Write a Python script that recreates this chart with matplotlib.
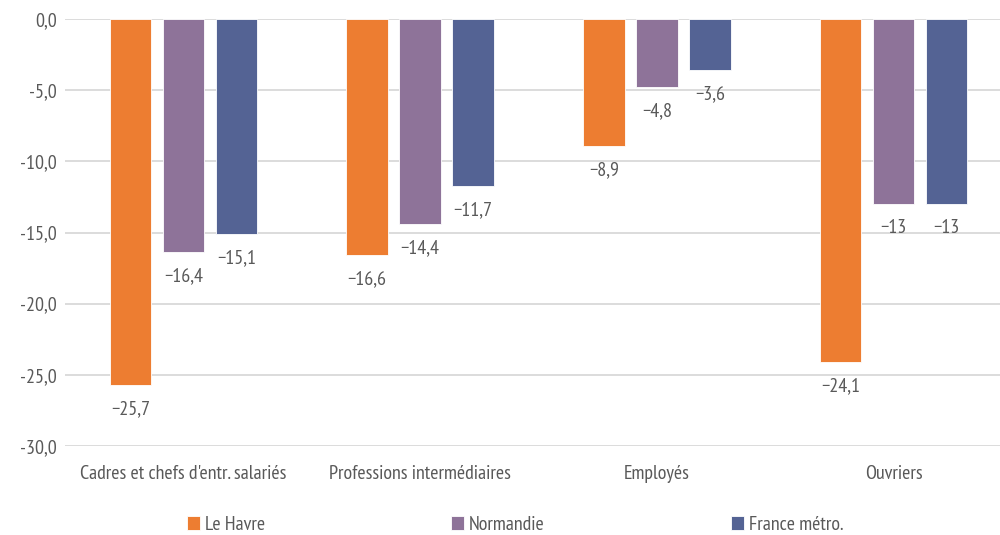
import matplotlib
matplotlib.use("Agg")
import matplotlib.pyplot as plt
import numpy as np
from matplotlib import font_manager

categories = ["Cadres et chefs d'entr. salariés", "Professions intermédiaires", "Employés", "Ouvriers"]
series_names = ["Le Havre", "Normandie", "France métro."]
le_havre = [-25.7, -16.6, -8.9, -24.1]
normandie = [-16.4, -14.4, -4.8, -13.0]
france = [-15.1, -11.7, -3.6, -13.0]
colors = ["#ED7D31", "#8E7399", "#546394"]
yticks = [0, -5, -10, -15, -20, -25, -30]

avail = {f.name for f in font_manager.fontManager.ttflist}
cands = ["PT Sans Narrow", "Fira Sans Condensed", "Roboto Condensed", "Liberation Sans Narrow", "DejaVu Sans"]
fam = [f for f in cands if f in avail] or ["DejaVu Sans"]
plt.rcParams['font.family'] = fam
txt = "#595959"
fs = 14.4

fig = plt.figure(figsize=(10, 5.35), dpi=100)
ax = fig.add_axes([0.065, 1 - 446 / 535, 0.947, (446 - 19) / 535])

x = np.arange(len(categories))
w = 0.175
off = 0.224
data = [le_havre, normandie, france]

def fmt(v):
    if abs(v - round(v)) < 1e-9:
        s = f"{int(round(v))}"
    else:
        s = f"{v:.1f}".replace(".", ",")
    return s.replace("-", "\u2212")

for i, (vals, name, c) in enumerate(zip(data, series_names, colors)):
    bars = ax.bar(x + (i - 1) * off, vals, width=w, color=c, label=name,
                  edgecolor="white", linewidth=0.6, zorder=3)
    for b, v in zip(bars, vals):
        ax.annotate(fmt(v), (b.get_x() + b.get_width() / 2, v), xytext=(0, -16),
                    textcoords="offset points", ha="center", va="center_baseline",
                    fontsize=fs, color=txt)

ax.set_xlim(-0.5, 3.5)
ax.set_ylim(-30, 0)
ax.set_yticks(yticks)
ax.set_yticklabels([f"{t:.1f}".replace(".", ",") if t != 0 else "0,0" for t in yticks])
ax.set_xticks(x)
ax.set_xticklabels(categories)
ax.tick_params(axis="both", length=0, colors=txt, labelsize=fs)
ax.tick_params(axis="x", pad=14)
ax.tick_params(axis="y", pad=6)
ax.grid(axis="y", color="#D9D9D9", linewidth=1.3, zorder=0)
for s in ax.spines.values():
    s.set_visible(False)

leg = fig.legend(loc="center left", bbox_to_anchor=(0.187, 1 - 525 / 535), ncol=3, frameon=False,
                 fontsize=fs, handlelength=0.65, handleheight=0.65, handletextpad=0.25,
                 columnspacing=9.3, borderpad=0, borderaxespad=0)
for t in leg.get_texts():
    t.set_color(txt)
fig.savefig("out.png", dpi=100)
